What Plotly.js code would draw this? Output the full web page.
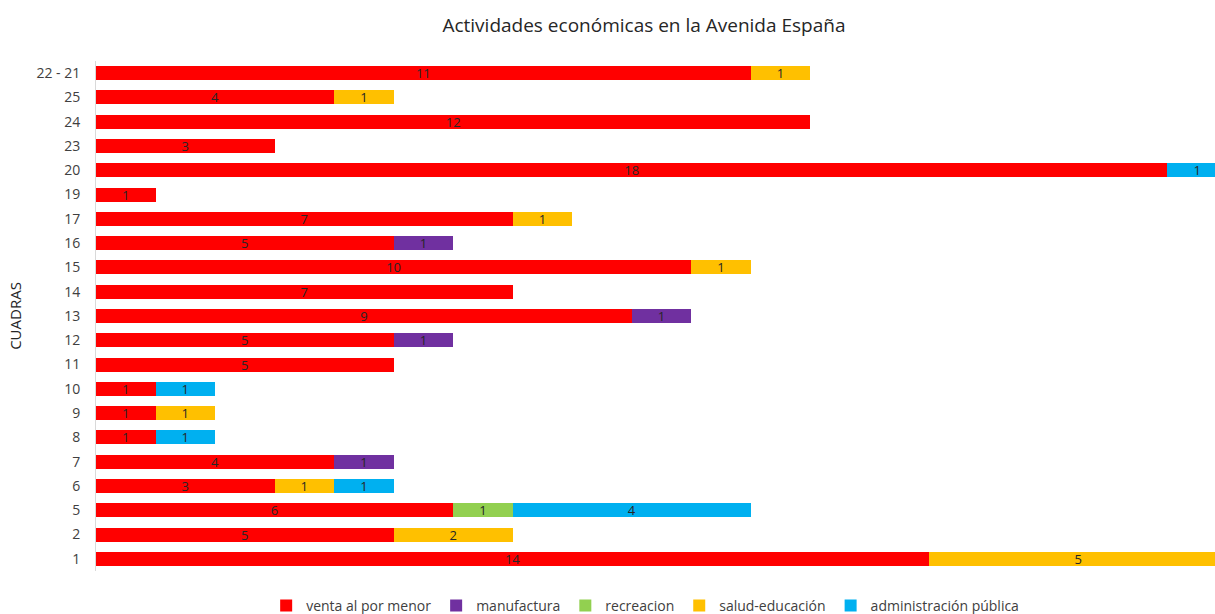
<!DOCTYPE html>
<html>
<head>
<meta charset="utf-8">
<script src="https://cdn.plot.ly/plotly-3.0.1.min.js"></script>
<style>html,body{margin:0;padding:0;background:#fff;}#chart{width:1215px;height:614px;}</style>
</head>
<body>
<div id="chart"></div>
<script>
const cuadras = ['1','2','5','6','7','8','9','10','11','12','13','14','15','16','17','19','20','23','24','25','22 - 21'];
const ventaAlPorMenor = [14,5,6,3,4,1,1,1,5,5,9,7,10,5,7,1,18,3,12,4,11];
const manufactura     = [null,null,null,null,1,null,null,null,null,1,1,null,null,1,null,null,null,null,null,null,null];
const recreacion      = [null,null,1,null,null,null,null,null,null,null,null,null,null,null,null,null,null,null,null,null,null];
const saludEducacion  = [5,2,null,1,null,null,1,null,null,null,null,null,1,null,1,null,null,null,null,1,1];
const administracion  = [null,null,4,1,null,1,null,1,null,null,null,null,null,null,null,null,1,null,null,null,null];

const seriesNames = ['venta al por menor','manufactura','recreacion','salud-educación','administración pública'];
const seriesValues = [ventaAlPorMenor, manufactura, recreacion, saludEducacion, administracion];
const seriesColors = ['#FF0000','#7030A0','#92D050','#FFC000','#00B0F0'];

const font = "'Open Sans', 'Liberation Sans', sans-serif";
const traces = seriesNames.map((n,i)=>({
  type:'bar', orientation:'h', name:n,
  y: cuadras, x: seriesValues[i],
  marker:{color:seriesColors[i]},
  text: seriesValues[i].map(v=> v==null? '' : String(v)),
  textposition:'inside', insidetextanchor:'middle', textangle:0,
  constraintext:'none',
  textfont:{family:font, size:13, color:'#262626'},
  hoverinfo:'x+name'
}));

const layout = {
  width:1215, height:614,
  barmode:'stack', bargap:0.42,
  margin:{l:96, r:0, t:61, b:43, autoexpand:false},
  paper_bgcolor:'#fff', plot_bgcolor:'#fff',
  font:{family:font, color:'#404040'},
  title:{text:'Actividades económicas en la Avenida España', x:0.53, xref:'container', xanchor:'center', y:0.958, yref:'container', yanchor:'middle', font:{family:font, size:19, color:'#262626'}},
  xaxis:{range:[0,18.8], visible:false, showgrid:false, zeroline:false, fixedrange:true},
  yaxis:{type:'category', categoryorder:'array', categoryarray:cuadras,
         showline:true, linecolor:'#d9d9d9', linewidth:1, ticks:'', ticklen:0, ticklabelstandoff:12,
         tickfont:{family:font, size:14, color:'#404040'}, automargin:false,
         title:{text:'CUADRAS', font:{family:font, size:15, color:'#262626'}, standoff:11}},
  legend:{orientation:'h', x:0.531, xanchor:'center', xref:'container', y:0.013, yanchor:'middle', yref:'container', traceorder:'normal',
          font:{family:font, size:14, color:'#404040'}, itemwidth:30},
  showlegend:true
};
Plotly.newPlot('chart', traces, layout, {displayModeBar:false, staticPlot:true});
</script>
</body>
</html>
